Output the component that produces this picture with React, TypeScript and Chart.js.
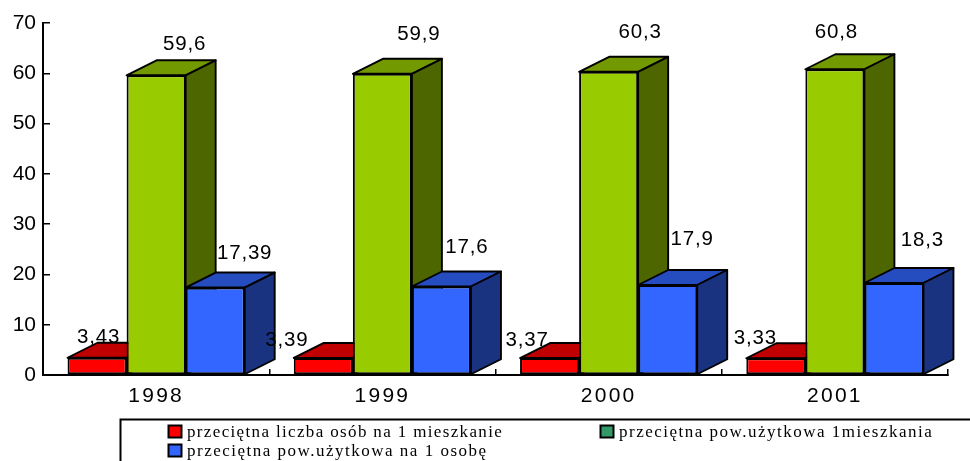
import React, { useEffect, useRef } from "react";
import { Chart, registerables } from "chart.js";

Chart.register(...registerables);

const years = ["1998", "1999", "2000", "2001"];
const persons = [3.43, 3.39, 3.37, 3.33];
const areaPerDwelling = [59.6, 59.9, 60.3, 60.8];
const areaPerPerson = [17.39, 17.6, 17.9, 18.3];
const seriesNames = [
  "przeciętna liczba osób na 1 mieszkanie",
  "przeciętna pow.użytkowa 1mieszkania",
  "przeciętna pow.użytkowa na 1 osobę",
];
const FONT = '"Liberation Sans", Arial, sans-serif';
const SERIF = '"Liberation Serif", "Times New Roman", serif';
const DEPTH_X = 30;
const DEPTH_Y = 15;

const faces = [
  { front: "#FF0000", top: "#C00000", side: "#800000", swatch: "#FF0000" },
  { front: "#99CC00", top: "#739900", side: "#4D6600", swatch: "#339966" },
  { front: "#3366FF", top: "#264DBF", side: "#1A3380", swatch: "#3366FF" },
];
// label offsets relative to the top-left of each bar's front face (hand placed in the original)
const labelOffsets = [
  [[31, -20], [-7, -18], [7, -18], [9, -20]],
  [[58, -31], [66, -39], [61, -39], [31, -37]],
  [[59, -34.5], [55, -39], [54, -46], [58, -43]],
];

const fmt = (v: number) => String(v).replace(".", ",");

const bar3d = {
  id: "bar3d",
  afterLayout(chart: any) {
    const x = chart.scales.x;
    if (x.__spaced) return;
    x.__spaced = true;
    const draw = x.drawLabels;
    x.drawLabels = function (area: any) {
      const { ctx } = chart;
      ctx.save();
      ctx.letterSpacing = "2.2px";
      draw.call(x, area);
      ctx.restore();
    };
  },
  beforeDatasetsDraw(chart: any) {
    const { ctx } = chart;
    ctx.save();
    ctx.lineWidth = 1.9;
    ctx.strokeStyle = "#000";
    ctx.lineJoin = "round";
    faces.forEach((f, i) => {
      for (const el of chart.getDatasetMeta(i).data as any[]) {
        const w = el.width;
        const l = el.x - w / 2;
        const r = el.x + w / 2;
        const t = el.y;
        const b = el.base;
        ctx.fillStyle = f.top;
        ctx.beginPath();
        ctx.moveTo(l, t);
        ctx.lineTo(l + DEPTH_X, t - DEPTH_Y);
        ctx.lineTo(r + DEPTH_X, t - DEPTH_Y);
        ctx.lineTo(r, t);
        ctx.closePath();
        ctx.fill();
        ctx.stroke();
        ctx.fillStyle = f.side;
        ctx.beginPath();
        ctx.moveTo(r, t);
        ctx.lineTo(r + DEPTH_X, t - DEPTH_Y);
        ctx.lineTo(r + DEPTH_X, b - DEPTH_Y);
        ctx.lineTo(r, b);
        ctx.closePath();
        ctx.fill();
        ctx.stroke();
      }
    });
    ctx.restore();
  },
  afterDatasetsDraw(chart: any) {
    const { ctx } = chart;
    ctx.save();
    ctx.fillStyle = "#000";
    ctx.font = `20.5px ${FONT}`;
    ctx.textAlign = "center";
    ctx.textBaseline = "middle";
    ctx.letterSpacing = "0.8px";
    chart.data.datasets.forEach((ds: any, i: number) => {
      chart.getDatasetMeta(i).data.forEach((el: any, j: number) => {
        const [dx, dy] = labelOffsets[i][j];
        ctx.fillText(fmt(ds.data[j]), el.x - el.width / 2 + dx, el.y + dy);
      });
    });
    ctx.restore();
  },
  afterDraw(chart: any) {
    const { ctx } = chart;
    ctx.save();
    ctx.strokeStyle = "#000";
    ctx.lineWidth = 2;
    ctx.strokeRect(120.5, 419.5, 860, 60);
    ctx.font = `17px ${SERIF}`;
    ctx.textBaseline = "alphabetic";
    const rows = [
      [168, 437, 1.35],
      [600, 437, 1.5],
      [168, 456, 1.5],
    ];
    chart.data.datasets.forEach((ds: any, i: number) => {
      const [x, y, spacing] = rows[i];
      ctx.letterSpacing = `${spacing}px`;
      ctx.fillStyle = faces[i].swatch;
      ctx.fillRect(x + 0.5, y - 11.5, 13, 12);
      ctx.lineWidth = 2;
      ctx.strokeRect(x + 0.5, y - 11.5, 13, 12);
      ctx.fillStyle = "#000";
      ctx.fillText(ds.label, x + 19, y);
    });
    ctx.restore();
  },
};

export default function App() {
  const ref = useRef<HTMLCanvasElement>(null);
  useEffect(() => {
    const values = [persons, areaPerDwelling, areaPerPerson];
    const chart = new Chart(ref.current!, {
      type: "bar",
      data: {
        labels: years,
        datasets: values.map((data, i) => ({
          label: seriesNames[i],
          data,
          backgroundColor: faces[i].front,
          borderColor: "#000",
          borderWidth: 2,
          borderSkipped: false,
          barPercentage: 1,
          categoryPercentage: 0.783,
        })),
      },
      options: {
        animation: false,
        responsive: false,
        layout: { padding: { top: 23, right: 22, left: 0, bottom: 0 } },
        plugins: { legend: { display: false }, tooltip: { enabled: false } },
        scales: {
          x: {
            afterFit: (s: any) => { s.height = 86; },
            grid: { drawOnChartArea: false, tickLength: -6, color: "#000", lineWidth: 1.5, offset: true },
            border: { color: "#000", width: 2 },
            ticks: { font: { family: FONT, size: 21 }, color: "#000", padding: 15, maxRotation: 0 },
          },
          y: {
            min: 0,
            max: 70,
            afterFit: (s: any) => { s.width = 43; s.paddingTop = 0; s.paddingBottom = 0; },
            grid: { drawOnChartArea: false, tickLength: -7, color: "#000", lineWidth: 1.5 },
            border: { color: "#000", width: 2 },
            ticks: { stepSize: 10, font: { family: FONT, size: 21 }, color: "#000", padding: 14 },
          },
        },
      },
      plugins: [bar3d],
    } as any);
    return () => chart.destroy();
  }, []);
  return (
    <div style={{ position: "fixed", left: 0, top: 0, width: 970, height: 461, background: "#fff", overflow: "hidden" }}>
      <canvas ref={ref} width={970} height={461} style={{ display: "block" }} />
    </div>
  );
}
